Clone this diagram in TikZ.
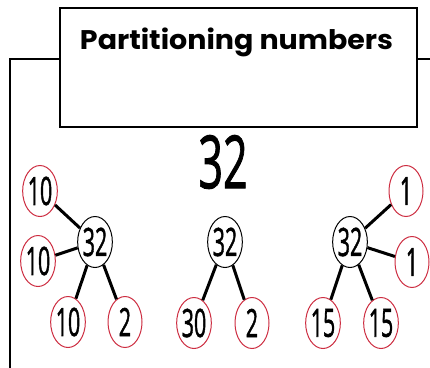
\documentclass[tikz,border=0pt]{standalone}
\usepackage{fontspec}
\usepackage{graphicx}
\usetikzlibrary{shapes.geometric}
\newfontfamily\titlefont{Poppins}
\newfontfamily\digitfont[FakeBold=1.6]{Open Sans}
\definecolor{leafred}{RGB}{205,45,65}
\newcommand\dg[1]{\scalebox{0.55}[1]{#1}}
\begin{document}
\begin{tikzpicture}[x=1pt,y=-1pt,
  frame/.style={line width=2pt, black},
  bubble/.style={ellipse, draw, line width=1pt, minimum width=34pt, minimum height=51pt, inner sep=0pt, fill=white,
    font=\digitfont\fontsize{39}{39}\selectfont},
  leaf/.style={bubble, draw=leafred},
  hub/.style={bubble, draw=black},
  link/.style={line width=3pt, black}]
\useasboundingbox (0,0) rectangle (430,367);
% frame
\draw[frame] (60,59) -- (10,59) -- (10,369);
\draw[frame] (417,59) -- (432,59);
\node[draw, line width=2pt, fill=white, minimum width=357pt, minimum height=119pt, inner sep=0pt] (titlebox) at (238.5,67.5) {};
\node[inner sep=0pt, font=\titlefont\bfseries] (title) at (236.5,42.5) {\resizebox*{313pt}{29pt}{Partitioning numbers}};
% big number
\node[inner sep=0pt, font=\digitfont\fontsize{73}{73}\selectfont] (big) at (223,162) {\scalebox{0.59}[1]{32}};
% left tree
\node[hub]  (h1) at (95,242) {\dg{32}};
\node[leaf] (a1) at (40,191) {\dg{10}};
\node[leaf] (a2) at (38,261) {\dg{10}};
\node[leaf] (a3) at (68,322) {\dg{10}};
\node[leaf] (a4) at (125,322) {\dg{2}};
% middle tree
\node[hub]  (h2) at (225,242) {\dg{32}};
\node[leaf] (b1) at (194,323) {\dg{30}};
\node[leaf] (b2) at (252,323) {\dg{2}};
% right tree
\node[hub]  (h3) at (350,242) {\dg{32}};
\node[leaf] (c1) at (406,191) {\dg{1}};
\node[leaf] (c2) at (412,262) {\dg{1}};
\node[leaf] (c3) at (323,323) {\dg{15}};
\node[leaf] (c4) at (381,323) {\dg{15}};
% links
\draw[link] (h1) -- (a1);
\draw[link] (h1) -- (a2);
\draw[link] (h1) -- (a3);
\draw[link] (h1) -- (a4);
\draw[link] (h2) -- (b1);
\draw[link] (h2) -- (b2);
\draw[link] (h3) -- (c1);
\draw[link] (h3) -- (c2);
\draw[link] (h3) -- (c3);
\draw[link] (h3) -- (c4);
\end{tikzpicture}
\end{document}
